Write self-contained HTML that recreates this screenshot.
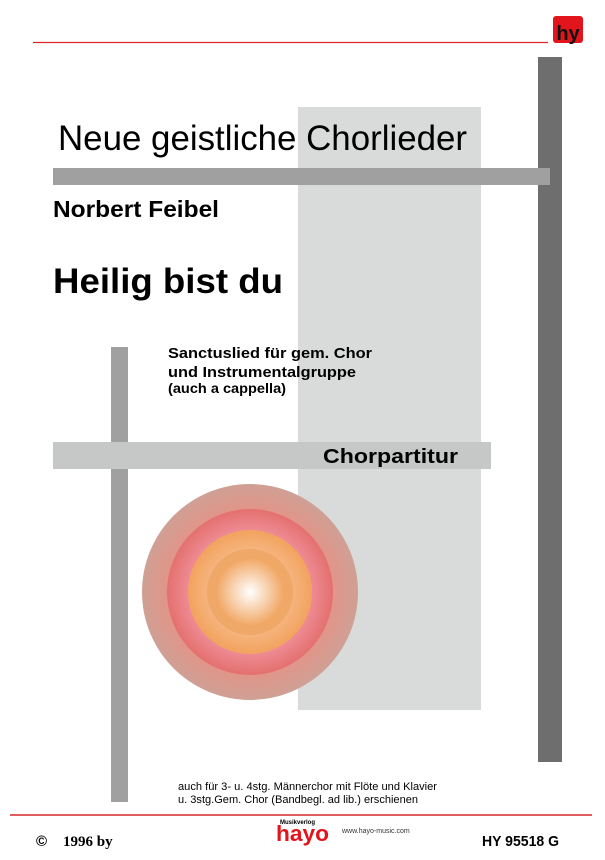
<!DOCTYPE html>
<html><head><meta charset="utf-8"><style>
html,body{margin:0;padding:0;background:#fff;width:605px;height:860px;overflow:hidden}
svg{display:block}
text{font-family:"Liberation Sans",sans-serif}
</style></head><body>
<svg width="605" height="860" viewBox="0 0 605 860" xmlns="http://www.w3.org/2000/svg">
<defs>
<radialGradient id="g1" cx="50%" cy="50%" r="50%"><stop offset="0.75" stop-color="#e39488"/><stop offset="1" stop-color="#cfa095"/></radialGradient>
<radialGradient id="g2" cx="50%" cy="50%" r="50%"><stop offset="0.7" stop-color="#f0909a"/><stop offset="1" stop-color="#e4706f"/></radialGradient>
<radialGradient id="g3" cx="50%" cy="50%" r="50%"><stop offset="0.6" stop-color="#f7b887"/><stop offset="1" stop-color="#f2a35e"/></radialGradient>
<radialGradient id="g4" cx="50%" cy="50%" r="50%"><stop offset="0" stop-color="#fff"/><stop offset="1" stop-color="#f1a764"/></radialGradient>
</defs>
<line x1="33" y1="42.5" x2="548" y2="42.5" stroke="#d8262c" stroke-width="1.2"/>
<rect x="553" y="16" width="30" height="27" rx="3" fill="#e2141c"/>
<text x="568" y="40" font-size="20" font-weight="bold" fill="#111" text-anchor="middle">hy</text>
<rect x="298" y="107" width="183" height="603" fill="#d9dbdb"/>
<rect x="538" y="57" width="24" height="705" fill="#6e6e6e"/>
<rect x="53" y="168" width="497" height="17" fill="#a0a0a0"/>
<text x="58" y="150" font-size="35" fill="#000" textLength="409" lengthAdjust="spacingAndGlyphs">Neue geistliche Chorlieder</text>
<text x="53" y="217" font-size="23" font-weight="bold" textLength="166" lengthAdjust="spacingAndGlyphs">Norbert Feibel</text>
<text x="53" y="293" font-size="35" font-weight="bold" textLength="230" lengthAdjust="spacingAndGlyphs">Heilig bist du</text>
<rect x="111" y="347" width="17" height="455" fill="#a0a0a0"/>
<text x="168" y="358" font-size="15" font-weight="bold" textLength="204" lengthAdjust="spacingAndGlyphs">Sanctuslied für gem. Chor</text>
<text x="168" y="377" font-size="15" font-weight="bold" textLength="188" lengthAdjust="spacingAndGlyphs">und Instrumentalgruppe</text>
<text x="168" y="393" font-size="14" font-weight="bold" textLength="118" lengthAdjust="spacingAndGlyphs">(auch a cappella)</text>
<rect x="53" y="442" width="438" height="27" fill="#c6c7c7"/>
<text x="323" y="463" font-size="20" font-weight="bold" textLength="135" lengthAdjust="spacingAndGlyphs">Chorpartitur</text>
<circle cx="250" cy="592" r="108" fill="url(#g1)"/>
<circle cx="250" cy="592" r="83" fill="url(#g2)"/>
<circle cx="250" cy="592" r="62" fill="url(#g3)"/>
<circle cx="250" cy="592" r="43" fill="#f0a868"/>
<circle cx="250" cy="592" r="34" fill="url(#g4)"/>
<text x="178" y="790" font-size="11" textLength="259" lengthAdjust="spacingAndGlyphs">auch für 3- u. 4stg. Männerchor mit  Flöte und Klavier</text>
<text x="178" y="803" font-size="11" textLength="240" lengthAdjust="spacingAndGlyphs">u.  3stg.Gem. Chor (Bandbegl. ad lib.) erschienen</text>
<line x1="10" y1="815" x2="592" y2="815" stroke="#d8262c" stroke-width="1.5"/>
<text x="36" y="846" font-size="15" font-weight="bold" font-family="Liberation Serif">©</text>
<text x="63" y="846" font-size="15" font-weight="bold" style="font-family:'Liberation Serif',serif">1996 by</text>
<text x="280" y="824" font-size="6" font-weight="bold">Musikverlog</text>
<text x="276" y="841" font-size="22" font-weight="bold" fill="#e2141c" textLength="53" lengthAdjust="spacingAndGlyphs">hayo</text>
<text x="342" y="833" font-size="7" fill="#333">www.hayo-music.com</text>
<text x="482" y="846" font-size="15" font-weight="bold" textLength="77" lengthAdjust="spacingAndGlyphs">HY 95518 G</text>
</svg>
</body></html>
